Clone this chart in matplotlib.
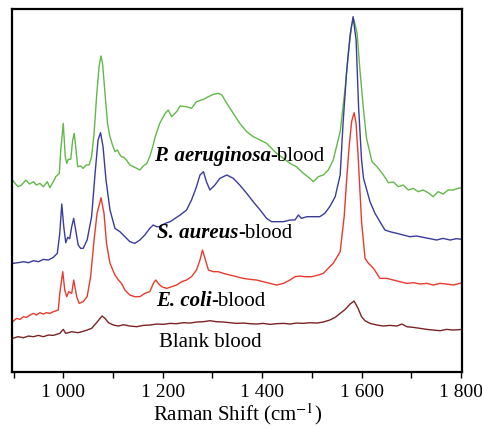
import matplotlib
matplotlib.use('Agg')
import matplotlib.pyplot as plt
from matplotlib.ticker import FixedLocator, FuncFormatter

plt.rcParams['font.family'] = ['Liberation Serif', 'DejaVu Serif']
plt.rcParams['mathtext.fontset'] = 'stix'

# spectra (Raman shift in cm-1, intensity in arbitrary units)
pa_x = [898, 903, 909, 916, 925, 932, 940, 946, 953, 960, 968, 973, 980, 985, 992, 995,
        1000, 1004, 1007, 1010, 1015, 1019, 1022, 1025, 1029, 1035, 1040, 1046, 1052, 1057,
        1062, 1067, 1072, 1076, 1079, 1084, 1089, 1094, 1099, 1104, 1109, 1113, 1117, 1122,
        1127, 1134, 1141, 1148, 1154, 1161, 1168, 1174, 1180, 1185, 1194, 1205, 1211, 1218,
        1228, 1235, 1248, 1258, 1268, 1282, 1292, 1302, 1312, 1319, 1329, 1342, 1355, 1369,
        1382, 1396, 1409, 1419, 1429, 1443, 1456, 1469, 1483, 1496, 1503, 1513, 1523, 1533,
        1543, 1557, 1567, 1573, 1580, 1585, 1591, 1597, 1604, 1610, 1621, 1631, 1644, 1654,
        1664, 1674, 1684, 1694, 1704, 1714, 1724, 1734, 1744, 1754, 1764, 1774, 1784, 1794, 1803]
pa_y = [57.5, 56.5, 55.5, 56.0, 57.5, 56.3, 57.0, 56.0, 56.5, 55.5, 57.0, 55.2, 57.0, 58.5, 59.5, 66.5,
        74.5, 64.5, 62.5, 63.7, 63.7, 69.5, 71.5, 67.5, 61.5, 61.7, 61.0, 62.0, 62.0, 64.5,
        71.5, 82.5, 91.5, 94.7, 92.5, 83.5, 74.5, 70.5, 68.0, 66.0, 66.5, 65.3, 64.5, 64.3,
        63.5, 62.0, 61.5, 61.0, 60.5, 61.7, 62.5, 64.5, 67.5, 70.5, 74.5, 77.5, 78.5, 76.5,
        78.0, 79.7, 79.5, 79.0, 81.0, 81.7, 82.5, 83.2, 83.5, 83.0, 80.5, 77.5, 74.5, 72.0,
        70.5, 69.5, 68.5, 67.0, 65.5, 64.0, 62.5, 61.5, 59.5, 58.0, 57.0, 58.5, 59.0, 60.5,
        63.5, 72.0, 85.0, 95.0, 104.0, 105.5, 101.5, 90.0, 78.5, 70.0, 63.0, 61.5, 59.0, 56.7,
        56.9, 55.5, 56.0, 54.5, 55.0, 54.0, 54.5, 53.7, 52.5, 54.0, 53.3, 54.5, 54.5, 55.0, 55.3]

sa_x = [898, 909, 920, 930, 940, 950, 960, 970, 980, 988, 993, 997, 1001, 1005, 1009, 1013,
        1017, 1021, 1025, 1030, 1035, 1040, 1048, 1057, 1064, 1070, 1075, 1080, 1086, 1094,
        1104, 1114, 1124, 1134, 1144, 1154, 1164, 1174, 1181, 1188, 1194, 1205, 1215, 1225,
        1235, 1248, 1258, 1268, 1275, 1282, 1288, 1295, 1305, 1315, 1329, 1342, 1355, 1369,
        1382, 1396, 1409, 1419, 1429, 1443, 1456, 1466, 1473, 1479, 1490, 1503, 1516, 1526,
        1536, 1547, 1557, 1563, 1570, 1577, 1583, 1589, 1594, 1600, 1604, 1617, 1627, 1637,
        1647, 1657, 1671, 1684, 1697, 1711, 1724, 1738, 1751, 1764, 1778, 1791, 1803]
sa_y = [32.5, 32.7, 33.0, 32.7, 33.3, 33.0, 33.7, 33.5, 34.3, 35.5, 41.5, 50.3, 43.5, 38.7, 40.3, 39.9,
        43.5, 46.0, 42.5, 38.0, 37.0, 37.0, 39.5, 46.5, 59.5, 69.5, 71.7, 67.5, 57.5, 48.5,
        43.0, 42.0, 40.5, 39.0, 38.5, 39.5, 41.0, 43.0, 44.0, 43.5, 43.5, 44.5, 45.0, 46.0,
        47.0, 48.5, 51.5, 55.5, 59.0, 60.0, 57.0, 54.5, 56.0, 58.0, 59.0, 58.0, 56.0, 53.5,
        51.0, 48.5, 46.0, 45.0, 45.0, 45.0, 45.5, 45.5, 47.0, 46.0, 46.5, 46.5, 46.5, 47.5,
        49.5, 52.5, 59.0, 75.0, 90.0, 101.0, 106.5, 99.5, 79.5, 63.5, 58.0, 51.0, 47.5, 45.0,
        42.5, 42.0, 41.5, 41.0, 40.5, 40.7, 40.3, 39.9, 39.5, 40.0, 39.5, 39.9, 39.7]

ec_x = [898, 906, 913, 920, 926, 933, 940, 946, 953, 960, 966, 973, 980, 990, 993, 999,
        1003, 1007, 1011, 1017, 1021, 1027, 1032, 1040, 1048, 1055, 1062, 1068, 1076, 1082,
        1087, 1094, 1104, 1111, 1117, 1124, 1134, 1144, 1154, 1164, 1174, 1182, 1186, 1191,
        1198, 1208, 1218, 1228, 1238, 1248, 1258, 1268, 1275, 1280, 1286, 1292, 1302, 1312,
        1322, 1335, 1349, 1362, 1376, 1389, 1402, 1416, 1429, 1443, 1456, 1466, 1476, 1486,
        1500, 1513, 1523, 1533, 1543, 1551, 1557, 1565, 1570, 1575, 1580, 1585, 1589, 1593,
        1600, 1607, 1614, 1624, 1637, 1651, 1664, 1677, 1691, 1704, 1718, 1731, 1744, 1758,
        1771, 1784, 1803]
ec_y = [15.0, 16.0, 15.7, 16.5, 16.3, 17.0, 17.5, 17.0, 17.7, 17.3, 17.7, 17.5, 18.0, 18.5, 23.5, 30.0,
        24.5, 22.5, 24.0, 23.5, 27.5, 22.5, 20.5, 21.0, 22.5, 28.5, 39.5, 47.5, 52.2, 47.5,
        38.5, 32.5, 29.0, 27.5, 26.5, 24.5, 23.0, 22.5, 22.5, 23.5, 24.0, 26.7, 27.5, 26.5,
        25.5, 25.0, 25.5, 26.0, 27.0, 27.5, 28.5, 30.5, 33.5, 36.5, 33.5, 30.5, 30.0, 30.0,
        29.5, 29.0, 28.5, 28.0, 27.7, 27.5, 27.0, 26.5, 26.0, 26.5, 27.5, 28.5, 28.7, 28.5,
        28.5, 29.0, 29.5, 31.0, 32.5, 34.5, 36.0, 46.5, 57.5, 67.5, 75.0, 77.7, 74.5, 65.0,
        45.0, 34.0, 32.5, 31.0, 28.0, 28.0, 27.5, 27.0, 26.5, 26.7, 26.3, 26.5, 26.0, 26.5,
        26.3, 26.0, 26.7]

bl_x = [898, 909, 920, 930, 940, 950, 960, 970, 980, 993, 1000, 1005, 1017, 1030, 1044, 1057,
        1067, 1074, 1078, 1084, 1091, 1101, 1111, 1121, 1134, 1148, 1161, 1174, 1188, 1201,
        1215, 1228, 1241, 1255, 1268, 1282, 1295, 1308, 1322, 1335, 1349, 1362, 1376, 1389,
        1402, 1416, 1429, 1443, 1456, 1469, 1483, 1496, 1510, 1523, 1536, 1547, 1557, 1567,
        1577, 1585, 1593, 1600, 1607, 1617, 1631, 1644, 1657, 1671, 1681, 1691, 1704, 1718,
        1731, 1744, 1758, 1771, 1784, 1803]
bl_y = [10.0, 10.5, 10.2, 10.7, 10.5, 10.9, 10.5, 11.0, 10.9, 11.5, 12.7, 11.5, 12.0, 11.7, 12.3, 13.0,
        14.7, 16.0, 16.7, 16.0, 14.7, 14.0, 13.7, 14.1, 13.7, 13.5, 13.9, 14.0, 14.3, 14.2,
        14.5, 14.4, 14.7, 14.6, 14.9, 15.0, 15.3, 15.0, 14.9, 14.7, 14.5, 14.6, 14.4, 14.3,
        14.5, 14.2, 14.4, 14.5, 14.3, 14.6, 14.5, 14.7, 14.6, 14.9, 15.5, 16.3, 17.5, 18.7,
        20.3, 21.2, 19.0, 16.5, 15.3, 14.5, 14.0, 13.7, 13.9, 13.7, 14.3, 13.5, 13.3, 13.0,
        12.7, 12.5, 12.3, 12.7, 12.5, 12.7]

fig = plt.figure(figsize=(4.82, 4.28), dpi=100)
ax = fig.add_axes([0.025, 0.1315, 0.9345, 0.8475])

ax.plot(pa_x, pa_y, color='#62b849', lw=1.0)
ax.plot(sa_x, sa_y, color='#3a3c9c', lw=1.0)
ax.plot(ec_x, ec_y, color='#e83a2e', lw=1.0)
ax.plot(bl_x, bl_y, color='#7a2424', lw=1.0)

ax.set_xlim(897, 1803)
ax.set_ylim(0, 108.8)

# species labels: bold italic name + regular "-blood"
fs = 15
for name, lx, ly in [('P. aeruginosa', 1182, 63.3), ('S. aureus', 1189, 40.2), ('E. coli', 1186, 19.7)]:
    t = ax.text(lx, ly, name, fontsize=fs, fontweight='bold', fontstyle='italic', va='baseline')
    ax.annotate('-blood', xy=(1, 0), xycoords=t, va='bottom', fontsize=fs)
ax.text(1193, 7.5, 'Blank blood', fontsize=fs, va='baseline')

ax.xaxis.set_major_locator(FixedLocator(range(900, 1801, 100)))
ax.xaxis.set_major_formatter(FuncFormatter(
    lambda v, p: '{:,}'.format(int(v)).replace(',', ' ') if int(v) % 200 == 0 else ''))
ax.tick_params(axis='x', direction='out', length=4, width=1, labelsize=14, pad=5)
ax.set_yticks([])
for s in ax.spines.values():
    s.set_linewidth(1.6)

ax.set_xlabel(r'Raman Shift (cm$^{\mathrm{-1}}$)', fontsize=15, labelpad=0)

fig.savefig('out.png', dpi=100)
